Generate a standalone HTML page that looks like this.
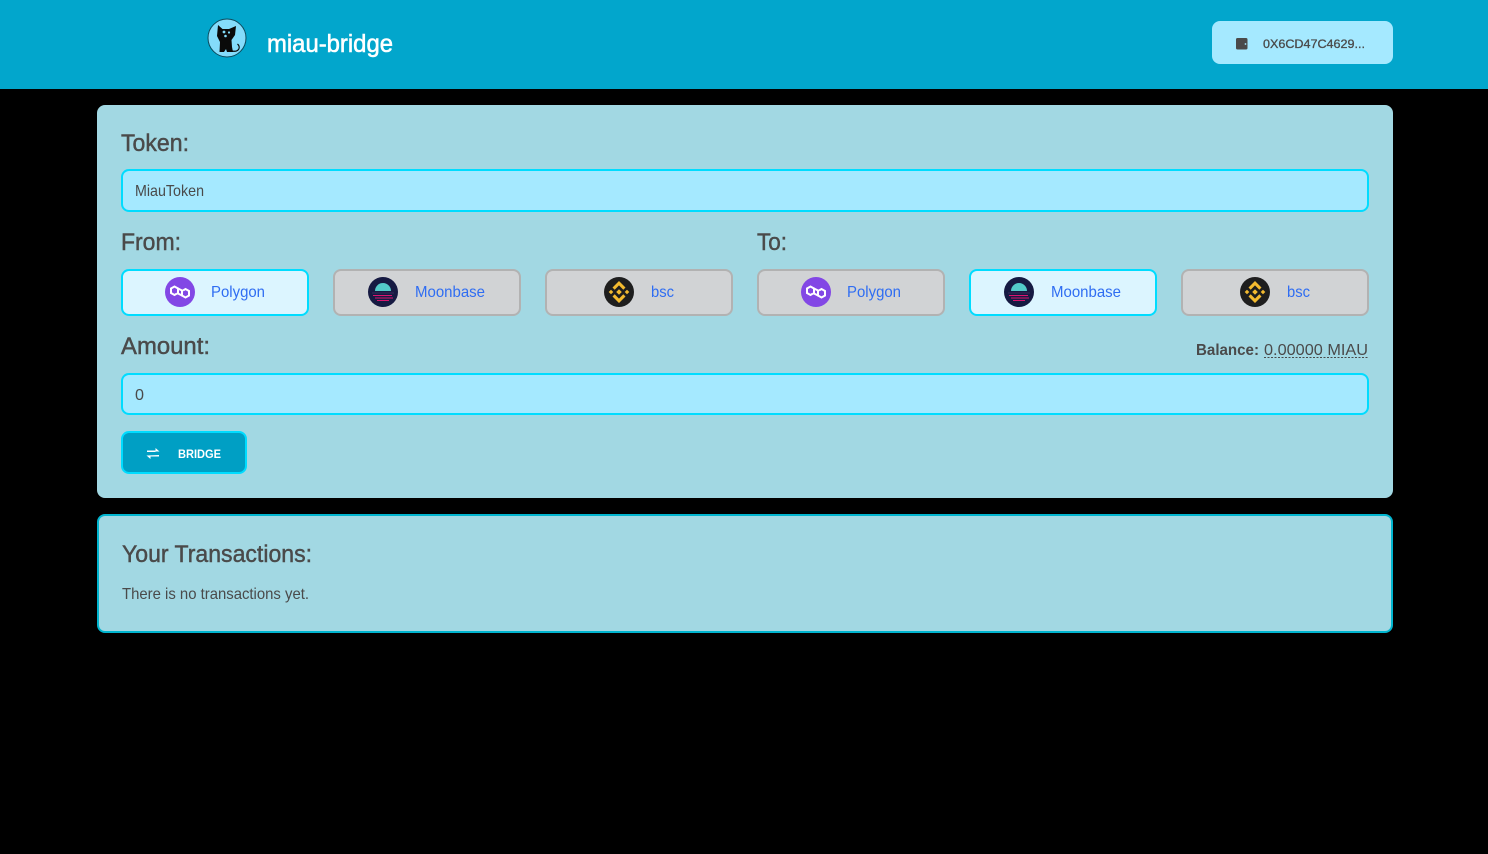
<!DOCTYPE html>
<html><head><meta charset="utf-8"><style>
html,body{margin:0;padding:0;background:#000;width:1488px;height:854px;overflow:hidden}
svg{display:block}
text{font-family:"Liberation Sans",sans-serif;fill:#4a4a4a}
.l{font-size:24px;stroke:#4a4a4a;stroke-width:.45}
.n{font-size:16px;fill:#2f6df2}
.i{font-size:16px}
.b{fill:#d1d3d5;stroke:#b2b2b2;stroke-width:2}
.a{fill:#dcf5ff;stroke:#00dcff;stroke-width:2}
.f{fill:#a5e9ff;stroke:#00dcff;stroke-width:2}
</style></head><body>
<svg width="1488" height="854" viewBox="0 0 1488 854" xmlns="http://www.w3.org/2000/svg">
<defs>
<g id="poly"><circle r="15" fill="#8247e5"/><g fill="none" stroke="#fff" stroke-width="2"><path d="M-3 1.500-5.500 3-9 1V-3.500L-5.500-5.500-2-3.500V1.500L2 3.500"/><path d="M3-1.500 5.500-3 9-1V3.500L5.500 5.500 2 3.500V-1.500L-2-3.500"/></g></g>
<g id="moon"><circle r="15" fill="#161a42"/><path d="M-8-1A8 8 0 0 1 8-1Z" fill="#53cbc9"/><path d="M-11 1H11" stroke="#3a2a5c" stroke-width="1"/><path d="M-10 3.500H9M-8 6H10M-6 8.500H6" stroke="#d8146f" stroke-width="1.100"/></g>
<g id="bnb"><circle r="15" fill="#1e1e1e"/><g fill="#f3ba2f"><path d="M0-11 6.500-4.500 4.300-2.300 0-6.600-4.300-2.300-6.500-4.500Z"/><path d="M0 11 6.500 4.500 4.300 2.300 0 6.600-4.300 2.300-6.500 4.500Z"/><path d="M-8-2.300-5.700 0-8 2.300-10.300 0Z"/><path d="M8-2.300 10.300 0 8 2.300 5.700 0Z"/><path d="M0-2.800 2.800 0 0 2.800-2.800 0Z"/></g></g>
</defs>
<rect width="1488" height="854" fill="#000"/>
<rect width="1488" height="89" fill="#02a6cc"/>
<circle cx="227" cy="38" r="19" fill="#84dcfb" stroke="#0c4a5c" stroke-width="1"/>
<path d="M218 25 222.500 29H229L236 26 235 35 231.500 40 232 47 233 52H227L226 49 224 52H219.500L220 42 217 36Z" fill="#0a0a0a"/>
<path d="M232 51C239 52.500 241 47 237.500 44" fill="none" stroke="#0a0a0a" stroke-width="1.200"/>
<circle cx="224" cy="32" r="1.400" fill="#84dcfb"/><circle cx="229" cy="32.500" r="1.100" fill="#84dcfb"/><circle cx="225.500" cy="36" r="1.300" fill="#84dcfb"/>
<text x="267" y="52" font-size="25" style="fill:#fff;stroke:#fff;stroke-width:.55" textLength="126" lengthAdjust="spacingAndGlyphs">miau-bridge</text>
<rect x="1212" y="21" width="181" height="43" rx="8" fill="#a5e9ff"/>
<path d="M1237.500 38H1246a1.500 1.500 0 0 1 1.500 1.500V48a1.500 1.500 0 0 1-1.500 1.500H1237.500a1.500 1.500 0 0 1-1.500-1.500V39.500a1.500 1.500 0 0 1 1.500-1.500Z" fill="#4a4a4a"/>
<circle cx="1245.500" cy="44" r=".9" fill="#a5e9ff"/>
<text x="1263" y="48" font-size="12" style="stroke:#4a4a4a;stroke-width:.3" textLength="102" lengthAdjust="spacingAndGlyphs">0X6CD47C4629...</text>

<rect x="97" y="105" width="1296" height="393" rx="8" fill="#a2d8e3"/>
<text x="121" y="151" class="l" textLength="68" lengthAdjust="spacingAndGlyphs">Token:</text>
<rect x="122" y="170" width="1246" height="41" rx="7" class="f"/>
<text x="135" y="196" class="i" textLength="69" lengthAdjust="spacingAndGlyphs">MiauToken</text>
<text x="121" y="250" class="l" textLength="60" lengthAdjust="spacingAndGlyphs">From:</text>
<text x="757" y="250" class="l" textLength="30" lengthAdjust="spacingAndGlyphs">To:</text>

<rect x="122" y="270" width="186" height="45" rx="7" class="a"/>
<rect x="334" y="270" width="186" height="45" rx="7" class="b"/>
<rect x="546" y="270" width="186" height="45" rx="7" class="b"/>
<rect x="758" y="270" width="186" height="45" rx="7" class="b"/>
<rect x="970" y="270" width="186" height="45" rx="7" class="a"/>
<rect x="1182" y="270" width="186" height="45" rx="7" class="b"/>
<use href="#poly" x="180" y="292"/><use href="#moon" x="383" y="292"/><use href="#bnb" x="619" y="292"/>
<use href="#poly" x="816" y="292"/><use href="#moon" x="1019" y="292"/><use href="#bnb" x="1255" y="292"/>
<text x="211" y="297" class="n" textLength="54" lengthAdjust="spacingAndGlyphs">Polygon</text>
<text x="415" y="297" class="n" textLength="70" lengthAdjust="spacingAndGlyphs">Moonbase</text>
<text x="651" y="297" class="n" textLength="23" lengthAdjust="spacingAndGlyphs">bsc</text>
<text x="847" y="297" class="n" textLength="54" lengthAdjust="spacingAndGlyphs">Polygon</text>
<text x="1051" y="297" class="n" textLength="70" lengthAdjust="spacingAndGlyphs">Moonbase</text>
<text x="1287" y="297" class="n" textLength="23" lengthAdjust="spacingAndGlyphs">bsc</text>

<text x="121" y="354" class="l" textLength="89" lengthAdjust="spacingAndGlyphs">Amount:</text>
<text x="1196" y="355" font-size="16" font-weight="700" textLength="63" lengthAdjust="spacingAndGlyphs">Balance:</text>
<text x="1264" y="355" font-size="16" textLength="104" lengthAdjust="spacingAndGlyphs">0.00000 MIAU</text>
<line x1="1264" y1="357.500" x2="1368" y2="357.500" stroke="#4a4a4a" stroke-width="1" stroke-dasharray="2 1.500"/>
<rect x="122" y="374" width="1246" height="40" rx="7" class="f"/>
<text x="135" y="400" class="i" textLength="9" lengthAdjust="spacingAndGlyphs">0</text>

<rect x="122" y="432" width="124" height="41" rx="7" fill="#009fc4" stroke="#00dcff" stroke-width="2"/>
<path d="M147 450.500H155.500V448L159.500 451.500 155.500 451.500V452H147ZM159 455V456.500H150.500V459L146.500 455.500Z" fill="#fff"/>
<text x="178" y="458" font-size="12" font-weight="700" style="fill:#fff" textLength="43" lengthAdjust="spacingAndGlyphs">BRIDGE</text>

<rect x="98" y="515" width="1294" height="117" rx="7" fill="#a2d8e3" stroke="#00b5cf" stroke-width="2"/>
<text x="122" y="562" class="l" textLength="190" lengthAdjust="spacingAndGlyphs">Your Transactions:</text>
<text x="122" y="599" class="i" textLength="187" lengthAdjust="spacingAndGlyphs">There is no transactions yet.</text>
</svg>
</body></html>
